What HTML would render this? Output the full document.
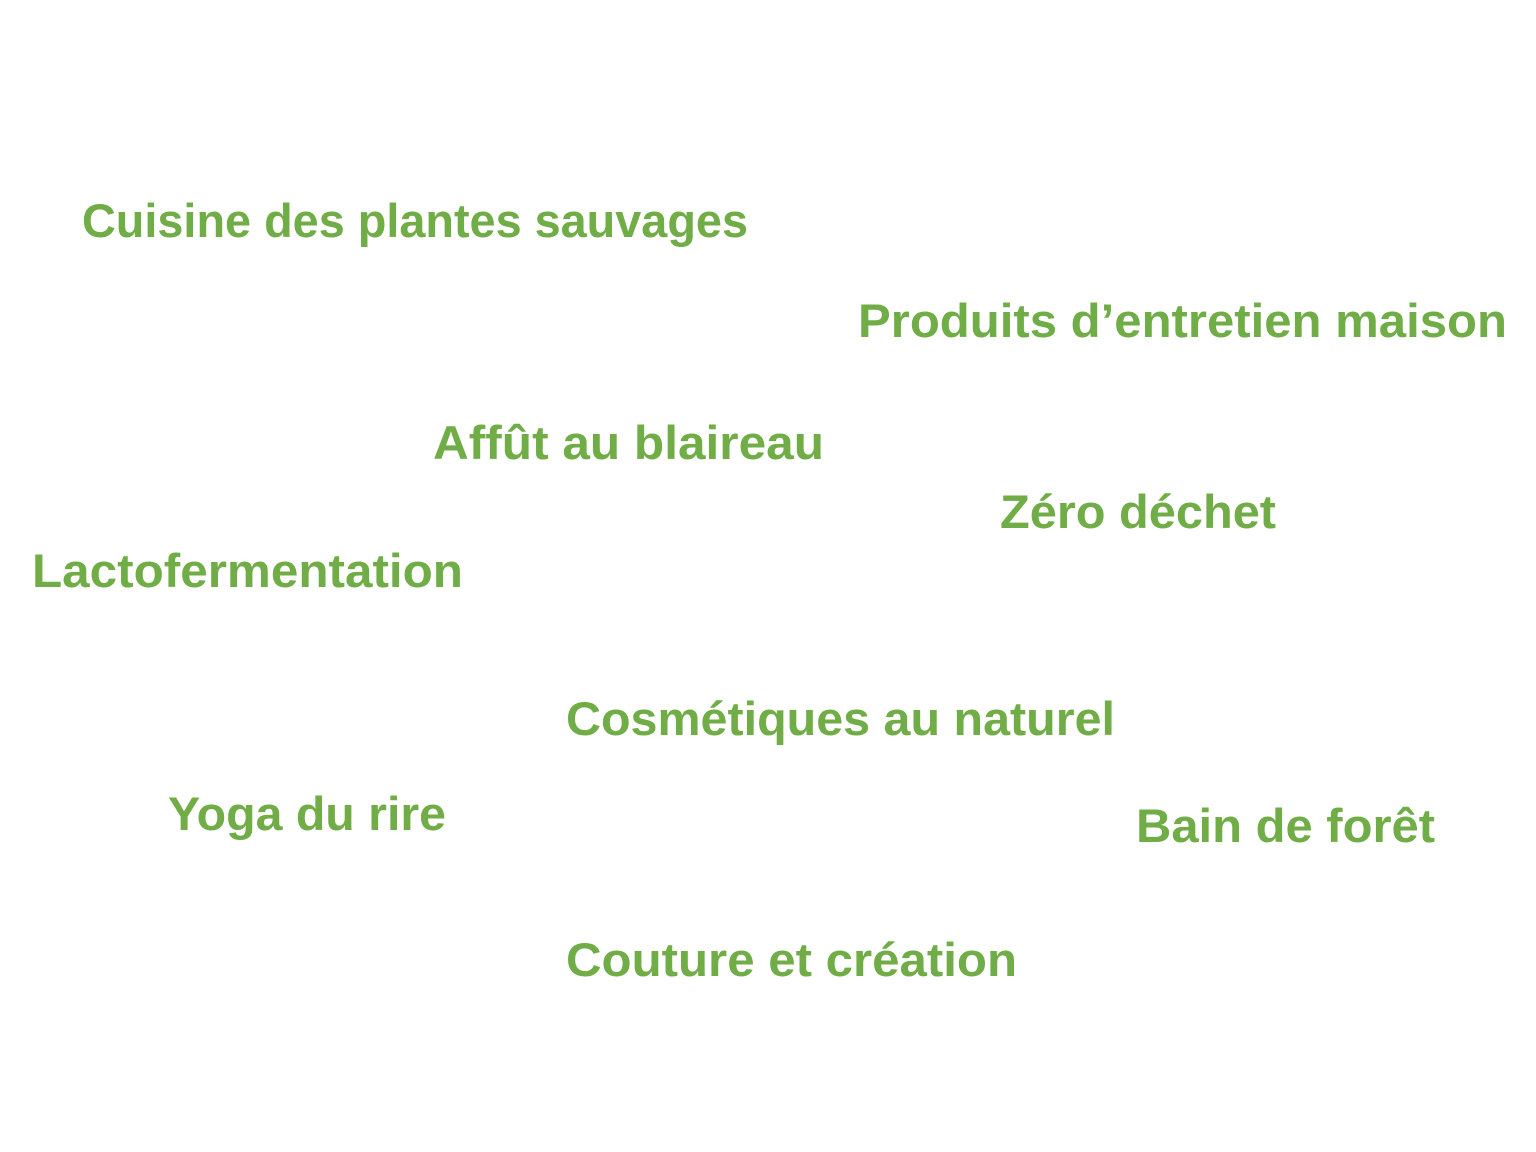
<!DOCTYPE html>
<html><head><meta charset="utf-8"><style>
html,body{margin:0;padding:0;background:#fff;width:1536px;height:1152px;overflow:hidden}
text{font-family:"Liberation Sans",sans-serif;font-weight:bold;fill:#70AD47;font-size:47px}
</style></head><body>
<svg width="1536" height="1152" xmlns="http://www.w3.org/2000/svg">
<text x="82" y="237" textLength="666" lengthAdjust="spacingAndGlyphs">Cuisine des plantes sauvages</text>
<text x="858" y="337" textLength="649" lengthAdjust="spacingAndGlyphs">Produits d’entretien maison</text>
<text x="433" y="459" textLength="391" lengthAdjust="spacingAndGlyphs">Affût au blaireau</text>
<text x="1000" y="528" textLength="276" lengthAdjust="spacingAndGlyphs">Zéro déchet</text>
<text x="32" y="587" textLength="431" lengthAdjust="spacingAndGlyphs">Lactofermentation</text>
<text x="566" y="735" textLength="549" lengthAdjust="spacingAndGlyphs">Cosmétiques au naturel</text>
<text x="168" y="830" textLength="278" lengthAdjust="spacingAndGlyphs">Yoga du rire</text>
<text x="1136" y="842" textLength="299" lengthAdjust="spacingAndGlyphs">Bain de forêt</text>
<text x="566" y="976" textLength="451" lengthAdjust="spacingAndGlyphs">Couture et création</text>
</svg>
</body></html>
